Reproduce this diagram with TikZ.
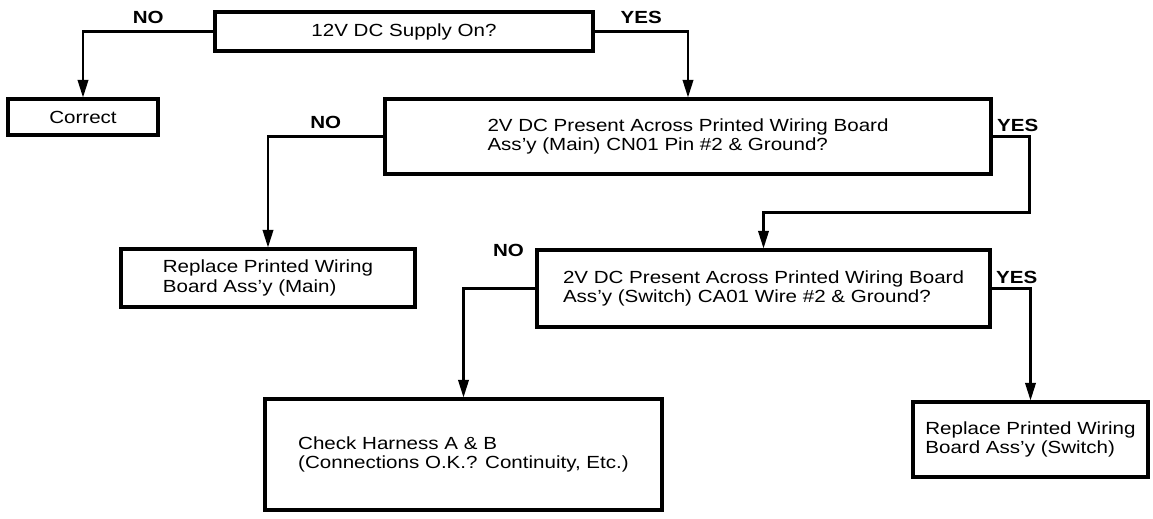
\documentclass[tikz,border=0pt]{standalone}
\usepackage{fontspec}
\setmainfont[FakeStretch=1.17]{Liberation Sans}
\usetikzlibrary{arrows.meta}

\begin{document}
\begin{tikzpicture}[
    x=0.02cm, y=-0.02cm,
    box/.style={rectangle, draw=black, line width=1.8pt, fill=white, align=left, font=\fontsize{10}{11.2}\selectfont, inner sep=0pt},
    lbl/.style={font=\fontsize{10}{11.2}\selectfont\bfseries, inner sep=2pt},
    arr/.style={-{Triangle[length=10pt,width=6pt]}, line width=1.2pt},
]
\useasboundingbox (0,0) rectangle (1153,518);

% questions
\node[box, minimum width=7.56cm, minimum height=0.78cm] (q1) at (404,31.5) {12V DC Supply On?};
\node[box, minimum width=12.12cm, minimum height=1.5cm] (q2) at (688,136.5) {2V DC Present Across Printed Wiring Board\\Ass'y (Main) CN01 Pin \#2 \& Ground?};
\node[box, minimum width=9.06cm, minimum height=1.54cm] (q3) at (763.5,288.5) {2V DC Present Across Printed Wiring Board\\Ass'y (Switch) CA01 Wire \#2 \& Ground?};

% actions
\node[box, minimum width=3.0cm, minimum height=0.72cm] (ok) at (83,117) {Correct};
\node[box, minimum width=5.88cm, minimum height=1.16cm] (rm) at (268,278) {Replace Printed Wiring\\Board Ass'y (Main)};
\node[box, minimum width=7.94cm, minimum height=2.22cm] (hb) at (463.5,454.5) {Check Harness A \& B\\(Connections O.K.? Continuity, Etc.)};
\node[box, minimum width=4.7cm, minimum height=1.5cm] (rs) at (1030.5,439.5) {Replace Printed Wiring\\Board Ass'y (Switch)};

% NO branches
\draw[arr] (q1.west) -| node[lbl, pos=0.25, above, yshift=2pt] {NO} (ok.north);
\draw[arr] (q2.west) -| node[lbl, pos=0.25, above, yshift=2pt] {NO} (rm.north);
\draw[arr] (q3.west) -| node[lbl, at start, anchor=south east, xshift=-0.14cm, yshift=0.55cm] {NO} (hb.north);

% YES branches
\draw[arr] (q1.east) -| node[lbl, pos=0.25, above, yshift=2pt] {YES} (q2.north);
\draw[arr] (q2.east) -- node[lbl, at start, above right] {YES} ++(37,0) -- ++(0,76) -| (q3.north);
\draw[arr] (q3.east) -| node[lbl, at start, above right] {YES} (rs.north);

\end{tikzpicture}
\end{document}
